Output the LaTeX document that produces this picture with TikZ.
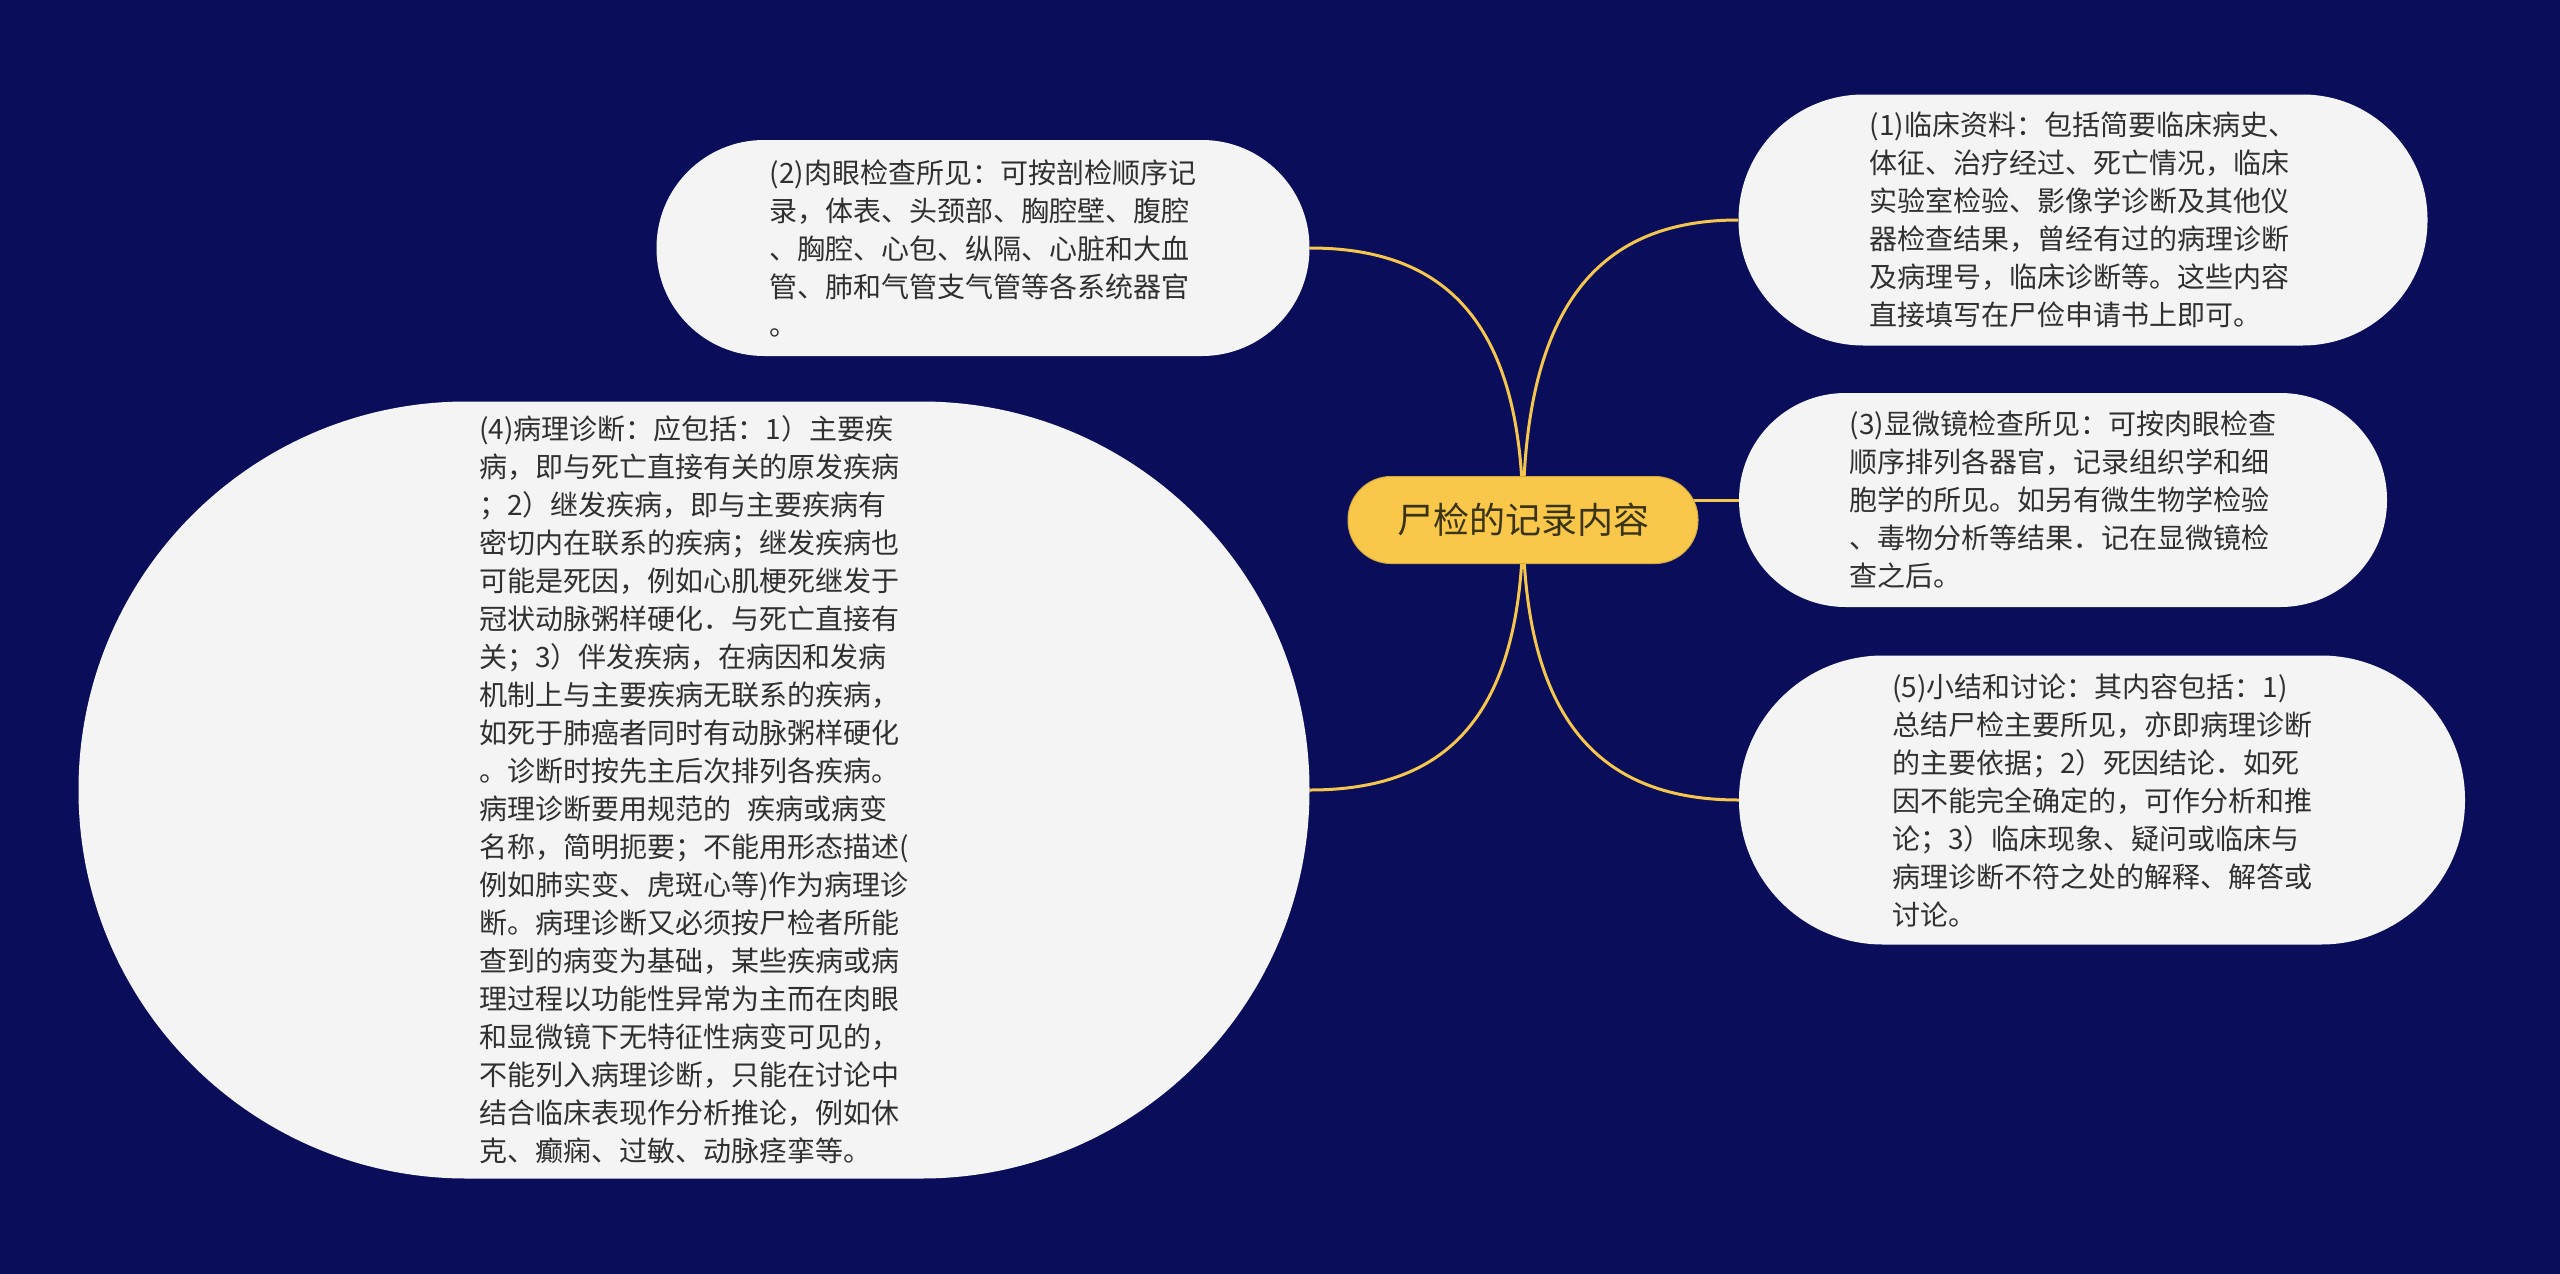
\documentclass[tikz,border=0pt]{standalone}
\usepackage{fontspec}
\setmainfont{Noto Sans CJK SC}
\pgfdeclarelayer{bg}
\pgfdeclarelayer{lines}
\pgfsetlayers{bg,lines,main}
\definecolor{navy}{HTML}{0A0E5A}
\definecolor{gold}{HTML}{F9C84B}
\definecolor{goldline}{HTML}{F5C64E}
\definecolor{leaf}{HTML}{F4F4F4}
\definecolor{txt}{HTML}{303030}
\definecolor{roottxt}{HTML}{3A3414}
\tikzset{
  leafnode/.style={fill=leaf, text=txt, align=left, inner sep=0pt,
    font=\fontsize{28pt}{38pt}\selectfont},
  rootnode/.style={fill=gold, draw=gold!85!black, line width=1pt, text=roottxt,
    inner sep=0pt, minimum width=350pt, minimum height=87pt, rounded corners=43pt,
    font=\fontsize{36pt}{42pt}\selectfont},
  conn/.style={draw=goldline, line width=3pt}
}
\begin{document}
\begin{tikzpicture}[x=1pt,y=-1pt]
\useasboundingbox (0,0) rectangle (2560,1274);
\begin{pgfonlayer}{bg}
\fill[navy] (0,0) rectangle (2560,1274);
\end{pgfonlayer}

\node[rootnode] (c) at (1523,520) {尸检的记录内容};

\node[leafnode, minimum width=689pt, minimum height=251pt, rounded corners=125pt] (n1) at (2083,220) {(1)临床资料：包括简要临床病史、\\体征、治疗经过、死亡情况，临床\\实验室检验、影像学诊断及其他仪\\器检查结果，曾经有过的病理诊断\\及病理号，临床诊断等。这些内容\\直接填写在尸俭申请书上即可。};

\node[leafnode, minimum width=653pt, minimum height=216pt, rounded corners=107.5pt] (n2) at (983,248) {(2)肉眼检查所见：可按剖检顺序记\\录，体表、头颈部、胸腔壁、腹腔\\、胸腔、心包、纵隔、心脏和大血\\管、肺和气管支气管等各系统器官\\。};

\node[leafnode, minimum width=648pt, minimum height=214pt, rounded corners=106.5pt] (n3) at (2063,500) {(3)显微镜检查所见：可按肉眼检查\\顺序排列各器官，记录组织学和细\\胞学的所见。如另有微生物学检验\\、毒物分析等结果．记在显微镜检\\查之后。};

\node[leafnode, minimum width=1231pt, minimum height=777pt, rounded corners=388pt] (n4) at (694,790) {(4)病理诊断：应包括：1）主要疾\\病，即与死亡直接有关的原发疾病\\；2）继发疾病，即与主要疾病有\\密切内在联系的疾病；继发疾病也\\可能是死因，例如心肌梗死继发于\\冠状动脉粥样硬化．与死亡直接有\\关；3）伴发疾病，在病因和发病\\机制上与主要疾病无联系的疾病，\\如死于肺癌者同时有动脉粥样硬化\\。诊断时按先主后次排列各疾病。\\病理诊断要用规范的\hspace{16pt}疾病或病变\\名称，简明扼要；不能用形态描述(\\例如肺实变、虎斑心等)作为病理诊\\断。病理诊断又必须按尸检者所能\\查到的病变为基础，某些疾病或病\\理过程以功能性异常为主而在肉眼\\和显微镜下无特征性病变可见的，\\不能列入病理诊断，只能在讨论中\\结合临床表现作分析推论，例如休\\克、癫痫、过敏、动脉痉挛等。};

\node[leafnode, minimum width=726pt, minimum height=289pt, rounded corners=144pt] (n5) at (2102,800) {(5)小结和讨论：其内容包括：1)\\总结尸检主要所见，亦即病理诊断\\的主要依据；2）死因结论．如死\\因不能完全确定的，可作分析和推\\论；3）临床现象、疑问或临床与\\病理诊断不符之处的解释、解答或\\讨论。};

\begin{pgfonlayer}{lines}
\draw[conn] (c.center) .. controls +(0,-219) and +(-136,0) .. (n1.west);
\draw[conn] (c.center) .. controls +(0,-199) and +(135,0) .. (n2.east);
\draw[conn] (n3.west -| c.center) -- (n3.west);
\draw[conn] (c.center) .. controls +(0,199) and +(135,0) .. (n4.east);
\draw[conn] (c.center) .. controls +(0,204) and +(-136,0) .. (n5.west);
\end{pgfonlayer}
\end{tikzpicture}
\end{document}
